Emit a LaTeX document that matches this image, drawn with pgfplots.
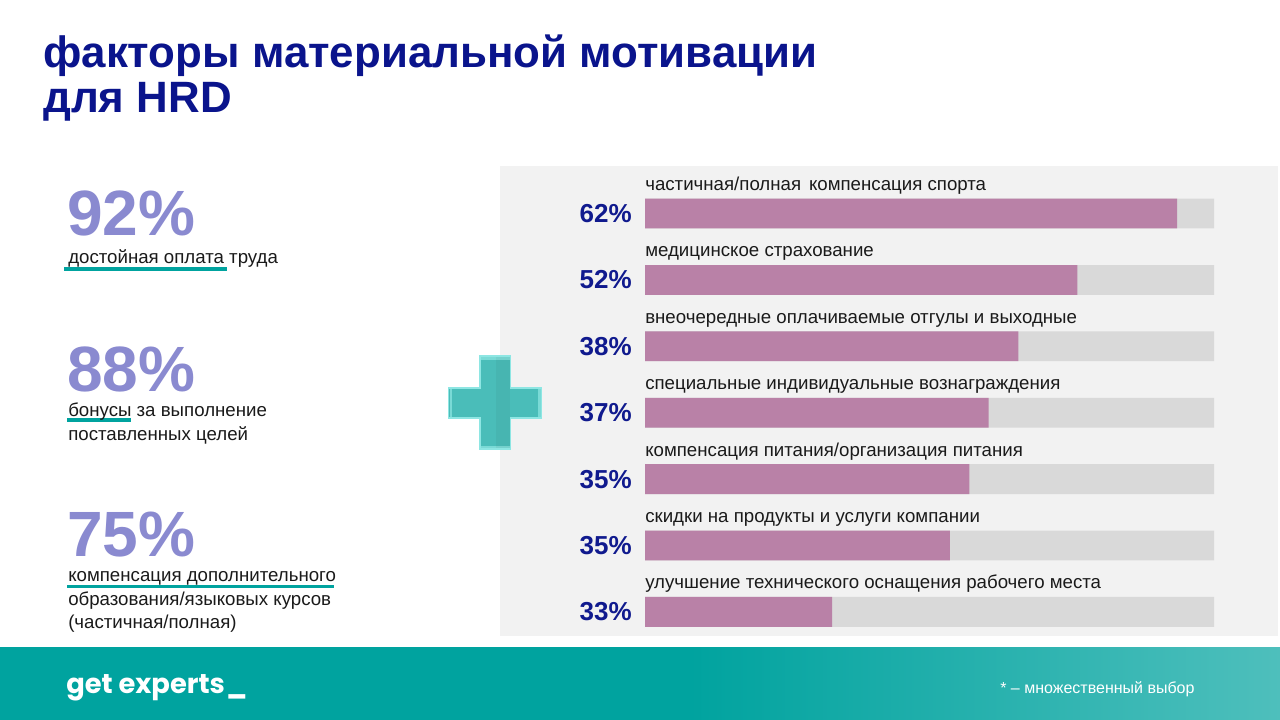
\documentclass[border=0pt]{standalone}
\usepackage{pgfplots}
\pgfplotsset{compat=1.18}
\usepackage{pgfplotstable}
\usepackage{fontspec}
\setmainfont{Liberation Sans}
\newfontfamily\logofont{Poppins}
\definecolor{navy}{HTML}{0A148C}
\definecolor{pctnavy}{HTML}{101A8E}
\definecolor{lav}{HTML}{8A8AD0}
\definecolor{teal1}{HTML}{00A39F}
\definecolor{teal2}{HTML}{4EBFBC}
\definecolor{panel}{HTML}{F2F2F2}
\definecolor{track}{HTML}{D9D9D9}
\definecolor{barpurple}{HTML}{B981A7}
\definecolor{plusfill}{HTML}{4ABDB9}
\definecolor{plusedge}{HTML}{8EE6E3}
\definecolor{txt}{HTML}{1A1A1A}

\pgfplotstableread{
row track len
1 100 93.5
2 100 76.0
3 100 65.6
4 100 60.4
5 100 57.0
6 100 53.6
7 100 32.9
}\bars

\begin{document}
\begin{tikzpicture}
\path[use as bounding box] (0,0) rectangle (960pt,-540pt);
\begin{scope}[x=0.75pt,y=-0.75pt]
\fill[white] (0,0) rectangle (1280,720);
\fill[panel] (500,166) rectangle (1278,636);
\fill[teal1] (0,647) rectangle (1280,720);
\shade[left color=teal1, right color=teal2] (690,647) rectangle (1280,720);
% title
\node[anchor=base west, inner sep=0, font=\fontsize{32.9}{38}\selectfont\bfseries, text=navy] at (43,68) {факторы материальной мотивации};
\node[anchor=base west, inner sep=0, font=\fontsize{32.9}{38}\selectfont\bfseries, text=navy] at (43,113) {для HRD};
% left block
\fill[teal1] (64,267) rectangle (227,270.5);
\fill[teal1] (67,418) rectangle (131,421.5);
\fill[teal1] (67,584.5) rectangle (334,588);
\node[anchor=base west, inner sep=0, font=\fontsize{48}{56}\selectfont\bfseries, text=lav] at (67,235) {92\%};
\node[anchor=base west, inner sep=0, font=\fontsize{14}{16}\selectfont, text=txt] at (68,263) {достойная оплата труда};
\node[anchor=base west, inner sep=0, font=\fontsize{48}{56}\selectfont\bfseries, text=lav] at (67,391.5) {88\%};
\node[anchor=base west, inner sep=0, font=\fontsize{14}{16}\selectfont, text=txt] at (68,416.5) {бонусы за выполнение};
\node[anchor=base west, inner sep=0, font=\fontsize{14}{16}\selectfont, text=txt] at (68,440) {поставленных целей};
\node[anchor=base west, inner sep=0, font=\fontsize{48}{56}\selectfont\bfseries, text=lav] at (67,556.5) {75\%};
\node[anchor=base west, inner sep=0, font=\fontsize{14}{16}\selectfont, text=txt] at (68,581.5) {компенсация дополнительного};
\node[anchor=base west, inner sep=0, font=\fontsize{14}{16}\selectfont, text=txt] at (68,605) {образования/языковых курсов};
\node[anchor=base west, inner sep=0, font=\fontsize{14}{16}\selectfont, text=txt] at (68,628) {(частичная/полная)};
% plus sign
\fill[plusfill, draw=plusedge, line width=0.9pt] (480,356) -- (510.5,356) -- (510.5,388) -- (541.5,388) -- (541.5,418) -- (510.5,418) -- (510.5,449) -- (480,449) -- (480,418) -- (448.5,418) -- (448.5,388) -- (480,388) -- cycle;
\fill[plusedge!70!plusfill] (449.5,389) rectangle (452,417);
\fill[plusedge!70!plusfill] (538,389) rectangle (540.5,417);
\fill[plusedge!70!plusfill] (481,357) rectangle (509.5,359.5);
\fill[plusedge!70!plusfill] (481,445.5) rectangle (509.5,448);
\fill[black, opacity=0.04] (495.5,357) rectangle (509.5,448);
% footer
\node[anchor=base west, inner sep=0, font=\logofont\fontsize{20.5}{24}\selectfont\bfseries, text=white] at (66,693) {get experts\hspace{1pt}\_};
\node[anchor=base west, inner sep=0, font=\fontsize{12}{14}\selectfont, text=white] at (1000,693) {* – множественный выбор};
\end{scope}
\begin{axis}[
  at={(483.75pt,-135.225pt)}, anchor=north west,
  scale only axis, width=426.75pt, height=348.6pt,
  hide axis, xbar, bar shift=0pt, bar width=22.35pt,
  xmin=0, xmax=100, ymin=0.5, ymax=7.5, y dir=reverse, clip=false]
\addplot[fill=track, draw=none] table[x=track, y=row] {\bars};
\addplot[fill=barpurple, draw=none] table[x=len, y=row] {\bars};
\tikzset{lbl/.style={anchor=base west, inner sep=0, font=\fontsize{14}{16}\selectfont, text=txt, yshift=17.25pt},
         pct/.style={anchor=east, inner sep=0, font=\fontsize{19.5}{23}\selectfont\bfseries, text=pctnavy, xshift=-9.75pt}}
\node[lbl] at (axis cs:0,1) {частичная/полная\hspace{2pt} компенсация спорта};
\node[lbl] at (axis cs:0,2) {медицинское страхование};
\node[lbl] at (axis cs:0,3) {внеочередные оплачиваемые отгулы и выходные};
\node[lbl] at (axis cs:0,4) {специальные индивидуальные вознаграждения};
\node[lbl] at (axis cs:0,5) {компенсация питания/организация питания};
\node[lbl] at (axis cs:0,6) {скидки на продукты и услуги компании};
\node[lbl] at (axis cs:0,7) {улучшение технического оснащения рабочего места};
\node[pct] at (axis cs:0,1) {62\%};
\node[pct] at (axis cs:0,2) {52\%};
\node[pct] at (axis cs:0,3) {38\%};
\node[pct] at (axis cs:0,4) {37\%};
\node[pct] at (axis cs:0,5) {35\%};
\node[pct] at (axis cs:0,6) {35\%};
\node[pct] at (axis cs:0,7) {33\%};
\end{axis}
\end{tikzpicture}
\end{document}
